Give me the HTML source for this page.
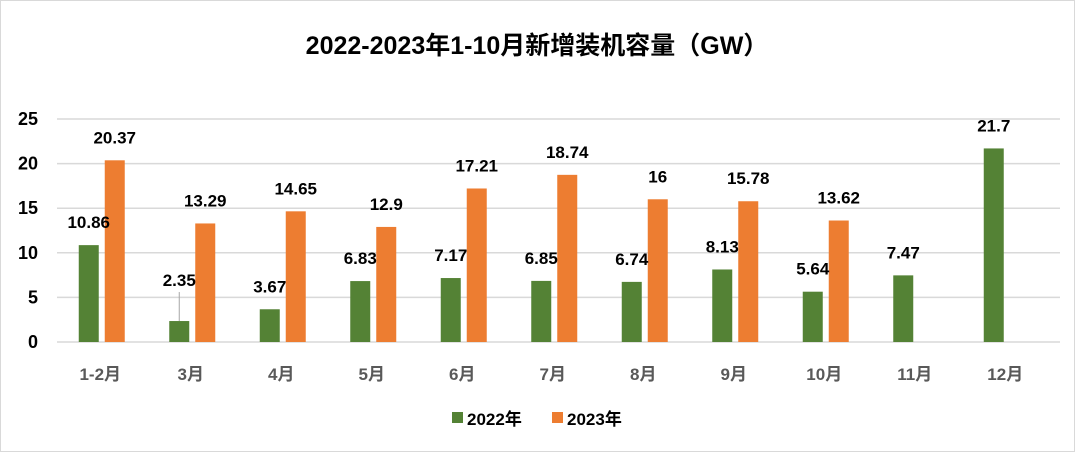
<!DOCTYPE html>
<html><head><meta charset="utf-8"><style>
body{margin:0;background:#fff;}
svg text{font-family:"Liberation Sans","Noto Sans CJK SC",sans-serif;}
</style></head><body>
<svg width="1075" height="452" xmlns="http://www.w3.org/2000/svg">
<rect x="0.5" y="0.5" width="1074" height="451" fill="#fff" stroke="#d9d9d9"/>
<text x="537" y="54" text-anchor="middle" font-size="25" font-weight="bold" fill="#000">2022-2023年1-10月新增装机容量（GW）</text>
<g id="grid"></g><g id="bars"></g><g id="labels"></g>
<g>
<rect x="452" y="412" width="11" height="11" fill="#548235"/>
<text x="467" y="425" font-size="17" font-weight="bold" fill="#000">2022年</text>
<rect x="552" y="412" width="11" height="11" fill="#ed7d31"/>
<text x="567" y="425" font-size="17" font-weight="bold" fill="#000">2023年</text>
</g>
</svg>
<script>
const categories=["1-2月","3月","4月","5月","6月","7月","8月","9月","10月","11月","12月"];
const values2022=[10.86,2.35,3.67,6.83,7.17,6.85,6.74,8.13,5.64,7.47,21.7];
const values2023=[20.37,13.29,14.65,12.9,17.21,18.74,16,15.78,13.62,null,null];
const yTicks=[0,5,10,15,20,25];
const NS="http://www.w3.org/2000/svg";
const L=55,GR=1060,Y0=342,Y25=119,YMAX=25;
const y=v=>Y0-(Y0-Y25)*v/YMAX;
const step=90.5;
const cx=i=>L+step*(i+0.5);
function mk(tag,attrs,parent,txt){const e=document.createElementNS(NS,tag);for(const k in attrs)e.setAttribute(k,attrs[k]);if(txt!=null)e.textContent=txt;parent.appendChild(e);return e;}
const grid=document.getElementById('grid'),bars=document.getElementById('bars'),labels=document.getElementById('labels');
yTicks.forEach(t=>{
 const l=mk('line',{x1:57,x2:GR,y1:y(t),y2:y(t),stroke:'#d9d9d9','stroke-width':1.5},grid);
 
 
 const tx=mk('text',{x:38,y:y(t)+6,'text-anchor':'end','font-size':18,'font-weight':'bold',fill:'#000'},grid,String(t));
 
 
});
categories.forEach((c,i)=>{
 const tx=mk('text',{x:cx(i),y:380,'text-anchor':'middle','font-size':17,'font-weight':'bold',fill:'#595959'},grid,c);
 
 
 [[values2022,'#548235',-21.5,'2022'],[values2023,'#ed7d31',4.5,'2023']].forEach(([arr,col,off,yr])=>{
  const v=arr[i];if(v==null)return;
  const b=mk('rect',{x:cx(i)+off,y:y(v),width:20,height:Y0-y(v),fill:col},bars);
  
  
  let ly=y(v)-17;
  const lx=cx(i)+off+10;
  if(yr==='2022'&&v<3){ly=y(v)-35;
   const ln=mk('line',{x1:lx,x2:lx,y1:ly+6,y2:y(v),stroke:'#a6a6a6','stroke-width':1},labels);
   
   }
  const t=mk('text',{x:lx,y:ly,'text-anchor':'middle','font-size':17,'font-weight':'bold',fill:'#000'},labels,String(v));
  
  
 });
});
</script>
</body></html>
